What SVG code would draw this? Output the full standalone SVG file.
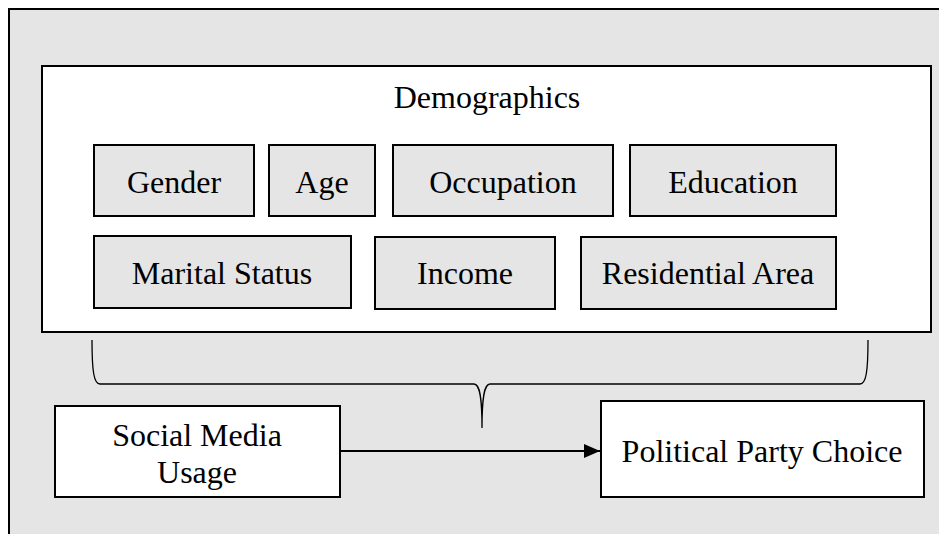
<svg xmlns="http://www.w3.org/2000/svg" width="939" height="534" viewBox="0 0 939 534">
<defs>
<style>
.box{stroke:#000;stroke-width:2;}
.gray{fill:#e5e5e5;}
.white{fill:#fff;}
.lbl{font-family:Liberation Serif,serif;font-size:32px;fill:#000;text-anchor:middle;}
.conn{fill:none;stroke:#000;stroke-width:2;}
.brace{fill:none;stroke:#000;stroke-width:1.3;}
</style>
<marker id="arr" viewBox="0 0 16 14" refX="16" refY="7" markerWidth="16" markerHeight="14" markerUnits="userSpaceOnUse" orient="auto">
<path d="M0,0 L16,7 L0,14 Z" fill="#000"/>
</marker>
</defs>
<rect x="0" y="0" width="939" height="534" fill="#fff"/>
<rect id="frame" class="box gray" x="9" y="9" width="940" height="535"/>
<g font-family="Liberation Serif, serif">
<g id="demographics">
<rect class="box white" x="42" y="66" width="889" height="266"/>
<text class="lbl" x="487" y="108">Demographics</text>
</g>
<g id="gender"><rect class="box gray" x="94" y="145" width="160" height="71"/><text class="lbl" x="174" y="193">Gender</text></g>
<g id="age"><rect class="box gray" x="269" y="145" width="106" height="71"/><text class="lbl" x="322" y="193">Age</text></g>
<g id="occupation"><rect class="box gray" x="393" y="145" width="220" height="71"/><text class="lbl" x="503" y="193">Occupation</text></g>
<g id="education"><rect class="box gray" x="630" y="145" width="206" height="71"/><text class="lbl" x="733" y="193">Education</text></g>
<g id="marital"><rect class="box gray" x="94" y="236" width="257" height="72"/><text class="lbl" x="222" y="284">Marital Status</text></g>
<g id="income"><rect class="box gray" x="375" y="237" width="180" height="72"/><text class="lbl" x="465" y="284">Income</text></g>
<g id="residential"><rect class="box gray" x="581" y="237" width="255" height="72"/><text class="lbl" x="708" y="284">Residential Area</text></g>
<g id="social"><rect class="box white" x="55" y="406" width="285" height="91"/><text class="lbl" x="197" y="446">Social Media</text><text class="lbl" x="197" y="483">Usage</text></g>
<g id="party"><rect class="box white" x="601" y="401" width="323" height="96"/><text class="lbl" x="762" y="462">Political Party Choice</text></g>
</g>
<g id="connectors">
<path class="brace" d="M92 340 C92 372 94 384 100 384 L474 384 C480 384 482 398 482 428 C482 398 484 384 490 384 L860 384 C866 384 868 372 868 340"/>
<line class="conn" x1="340" y1="451" x2="600" y2="451" marker-end="url(#arr)"/>
</g>
</svg>
